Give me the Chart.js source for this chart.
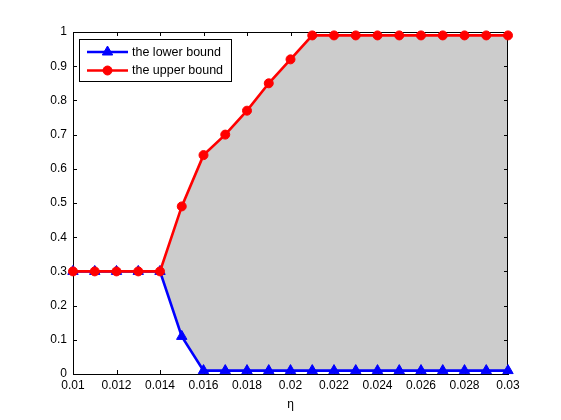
<!DOCTYPE html>
<html>
<head>
<meta charset="utf-8">
<script src="https://cdn.jsdelivr.net/npm/chart.js@4/dist/chart.umd.min.js"></script>
<style>
  html, body { margin: 0; padding: 0; background: #fff; }
</style>
</head>
<body>
<canvas id="boundsChart" width="561" height="420"></canvas>
<script>
// DATA
const etaValues = [0.010, 0.011, 0.012, 0.013, 0.014, 0.015, 0.016, 0.017, 0.018, 0.019, 0.020,
                   0.021, 0.022, 0.023, 0.024, 0.025, 0.026, 0.027, 0.028, 0.029, 0.030]
const lowerBound = [0.30, 0.30, 0.30, 0.30, 0.30, 0.11, 0.01, 0.01, 0.01, 0.01, 0.01,
                    0.01, 0.01, 0.01, 0.01, 0.01, 0.01, 0.01, 0.01, 0.01, 0.01]
const upperBound = [0.30, 0.30, 0.30, 0.30, 0.30, 0.49, 0.64, 0.70, 0.77, 0.85, 0.92,
                    0.99, 0.99, 0.99, 0.99, 0.99, 0.99, 0.99, 0.99, 0.99, 0.99]
const xTicks = [0.010, 0.012, 0.014, 0.016, 0.018, 0.020, 0.022, 0.024, 0.026, 0.028, 0.030]
const yTicks = [0, 0.1, 0.2, 0.3, 0.4, 0.5, 0.6, 0.7, 0.8, 0.9, 1]
const seriesNames = ['the lower bound', 'the upper bound']

const FONT = "'Liberation Sans', Arial, sans-serif"
const BLUE = 'rgb(0, 0, 255)'
const RED = 'rgb(255, 0, 0)'

const toPoints = (ys) => etaValues.map((x, i) => ({ x: x, y: ys[i] }))

// box round the axes + ticks pointing inwards, matlab style
const axesBox = {
    id: 'axesBox',
    beforeDatasetsDraw(chart) {
        const { ctx, chartArea: a, scales } = chart
        const len = 4
        ctx.save()
        ctx.strokeStyle = '#000'
        ctx.lineWidth = 1
        ctx.strokeRect(Math.round(a.left) + 0.5, Math.round(a.top) + 0.5,
                       Math.round(a.right - a.left) - 1, Math.round(a.bottom - a.top))
        ctx.beginPath()
        xTicks.forEach(v => {
            const px = Math.round(scales.x.getPixelForValue(v)) + 0.5
            ctx.moveTo(px, a.bottom); ctx.lineTo(px, a.bottom - len)
            ctx.moveTo(px, a.top); ctx.lineTo(px, a.top + len)
        })
        yTicks.forEach(v => {
            const py = Math.round(scales.y.getPixelForValue(v)) + 0.5
            ctx.moveTo(a.left, py); ctx.lineTo(a.left + len, py)
            ctx.moveTo(a.right, py); ctx.lineTo(a.right - len, py)
        })
        ctx.stroke()
        ctx.restore()
    }
}

// legend drawn inside the plot, line + marker like matlab
const boxLegend = {
    id: 'boxLegend',
    afterDraw(chart) {
        const { ctx } = chart
        const bx = 79.5, by = 39.5, bw = 152, bh = 42
        ctx.save()
        ctx.fillStyle = '#fff'
        ctx.fillRect(bx, by, bw, bh)
        ctx.strokeStyle = '#000'
        ctx.lineWidth = 1
        ctx.strokeRect(bx, by, bw, bh)
        chart.data.datasets.forEach((ds, i) => {
            const y = 52 + i * 18.5
            ctx.strokeStyle = ds.borderColor
            ctx.lineWidth = ds.borderWidth
            ctx.beginPath()
            ctx.moveTo(87, y); ctx.lineTo(128, y)
            ctx.stroke()
            ctx.fillStyle = ds.pointBackgroundColor
            ctx.strokeStyle = ds.pointBorderColor
            ctx.lineWidth = 1
            Chart.helpers.drawPoint(ctx, {
                pointStyle: ds.pointStyle, radius: ds.pointRadius, rotation: 0, borderWidth: 1
            }, 107.5, y)
            ctx.fillStyle = '#000'
            ctx.font = '12.5px ' + FONT
            ctx.textBaseline = 'middle'
            ctx.fillText(seriesNames[i], 132, y + 0.5)
        })
        ctx.restore()
    }
}

const dataBounds = {
    datasets: [{
        label: seriesNames[0],
        data: toPoints(lowerBound),
        borderColor: BLUE,
        backgroundColor: BLUE,
        pointBackgroundColor: BLUE,
        pointBorderColor: BLUE,
        borderWidth: 2.6,
        pointStyle: 'triangle',
        pointRadius: 6,
        pointBorderWidth: 1,
        fill: false,
        clip: false,
        order: 1
    }, {
        label: seriesNames[1],
        data: toPoints(upperBound),
        borderColor: RED,
        backgroundColor: 'rgb(204, 204, 204)',
        pointBackgroundColor: RED,
        pointBorderColor: RED,
        borderWidth: 2.6,
        pointStyle: 'circle',
        pointRadius: 4.5,
        pointBorderWidth: 1,
        fill: '-1',
        clip: false,
        order: 0
    }]
}

const configBounds = {
    type: 'line',
    data: dataBounds,
    options: {
        responsive: false,
        animation: false,
        devicePixelRatio: 1,
        layout: { padding: { top: 32, right: 53, left: 0, bottom: 0 } },
        elements: { line: { tension: 0 } },
        plugins: {
            legend: { display: false },
            tooltip: { enabled: false },
            filler: { drawTime: 'beforeDatasetsDraw' }
        },
        scales: {
            x: {
                type: 'linear',
                min: 0.01,
                max: 0.03,
                afterBuildTicks: (scale) => { scale.ticks = xTicks.map(v => ({ value: v })) },
                afterFit: (scale) => { scale.height = 46 },
                grid: { drawOnChartArea: false, drawTicks: false },
                border: { color: '#000', width: 1 },
                ticks: {
                    color: '#000',
                    font: { family: FONT, size: 12 },
                    padding: 4,
                    maxRotation: 0,
                    autoSkip: false,
                    callback: (v) => String(+v.toFixed(3))
                },
                title: {
                    display: true,
                    text: 'η',
                    color: '#000',
                    font: { family: FONT, size: 12 },
                    padding: { top: 0, bottom: 8 }
                }
            },
            y: {
                type: 'linear',
                min: 0,
                max: 1,
                afterBuildTicks: (scale) => { scale.ticks = yTicks.map(v => ({ value: v })) },
                afterFit: (scale) => { scale.width = 73 },
                grid: { drawOnChartArea: false, drawTicks: false },
                border: { color: '#000', width: 1 },
                ticks: {
                    color: '#000',
                    font: { family: FONT, size: 12 },
                    padding: 6,
                    autoSkip: false,
                    callback: (v) => String(+v.toFixed(1))
                }
            }
        }
    },
    plugins: [axesBox, boxLegend]
}

const boundsChart = new Chart(
    document.getElementById('boundsChart'),
    configBounds
)
</script>
</body>
</html>
